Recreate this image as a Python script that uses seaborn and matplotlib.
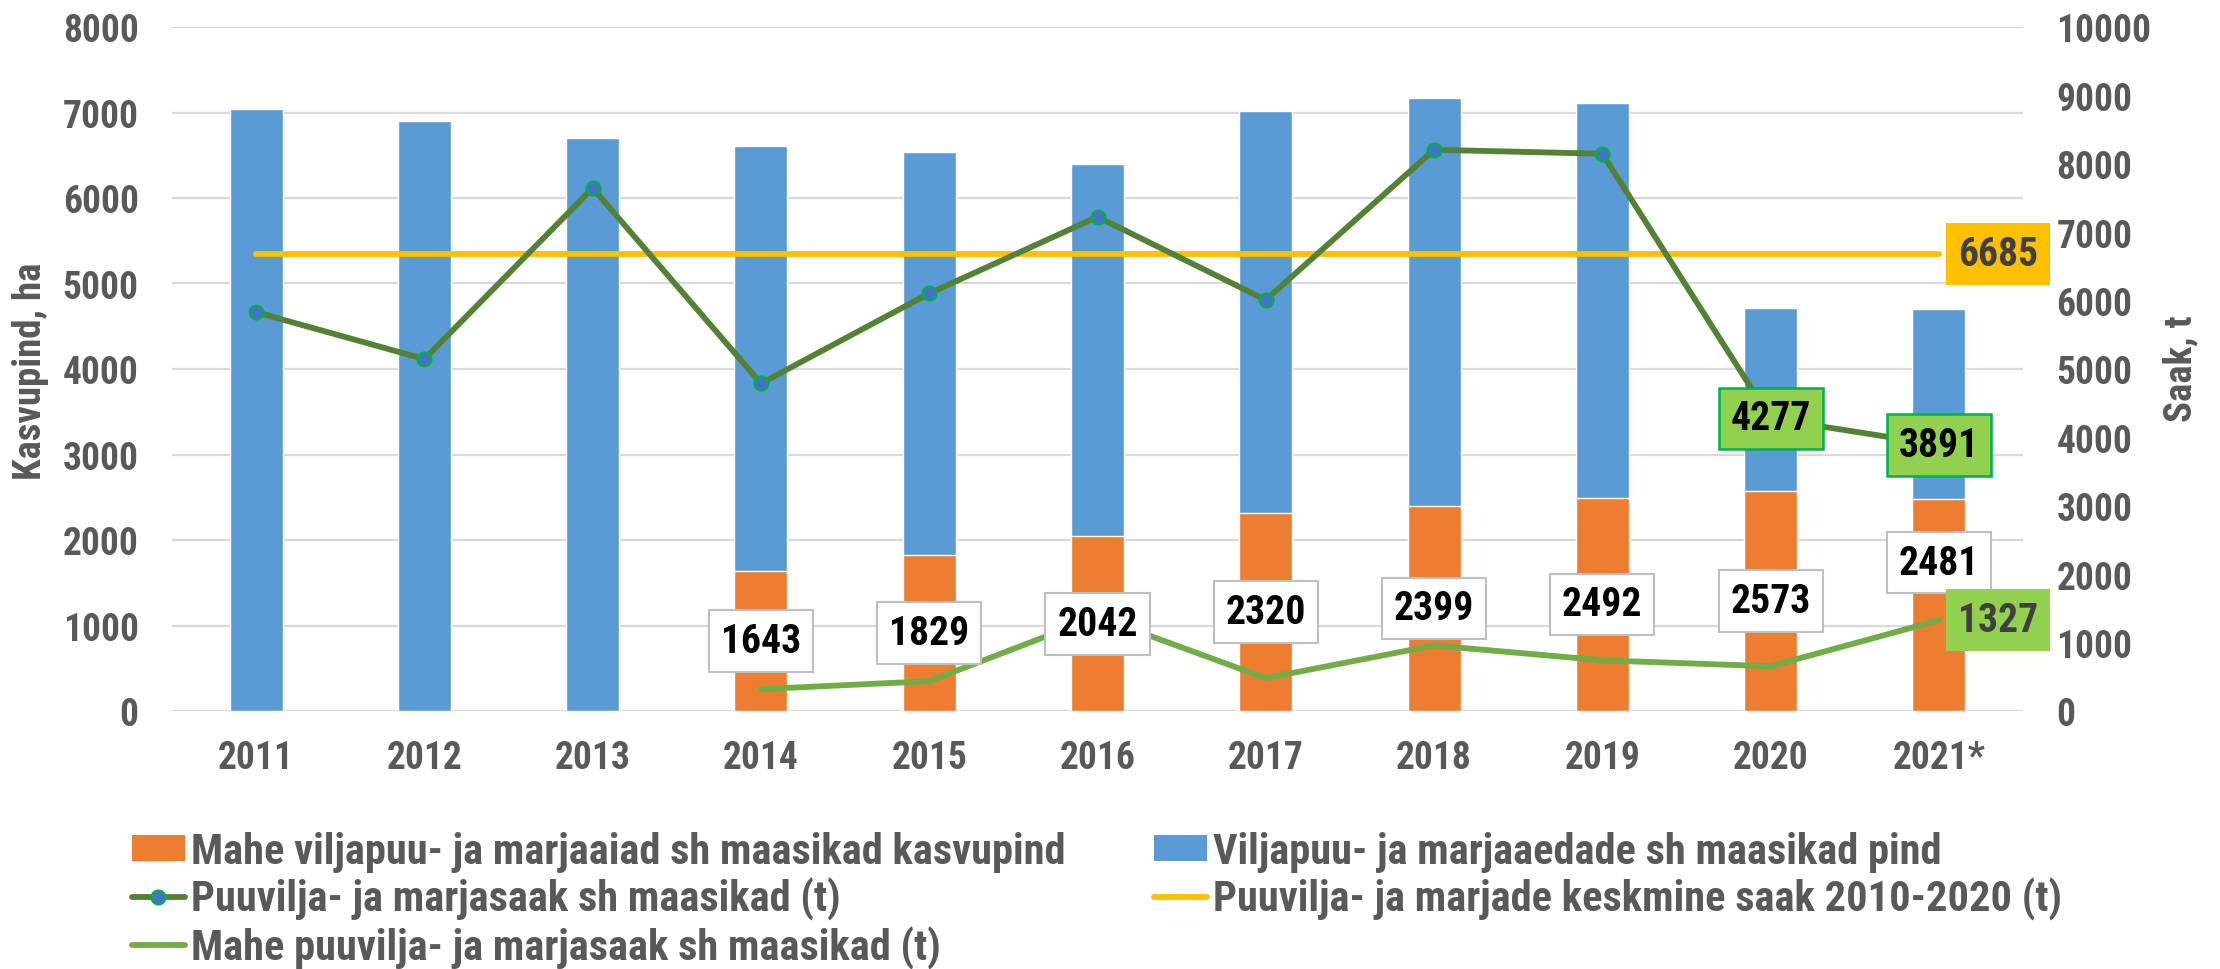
import matplotlib
matplotlib.use("Agg")
import matplotlib.pyplot as plt
from matplotlib import font_manager as fm
from matplotlib.patches import Patch
from matplotlib.lines import Line2D
import seaborn as sns
import pandas as pd

# ---------------- data ----------------
years = ["2011", "2012", "2013", "2014", "2015", "2016", "2017", "2018", "2019", "2020", "2021*"]
total_area = [7040, 6895, 6703, 6605, 6535, 6401, 7017, 7174, 7110, 4715, 4703]
org_years = ["2014", "2015", "2016", "2017", "2018", "2019", "2020", "2021*"]
org_area = [1643, 1829, 2042, 2320, 2399, 2492, 2573, 2481]
harvest = [5830, 5145, 7645, 4789, 6105, 7224, 6010, 8205, 8147, 4277, 3891]
org_harvest = [320, 436, 1380, 480, 959, 741, 654, 1327]
avg_harvest = 6685

lbl_org = "Mahe viljapuu- ja marjaaiad sh maasikad kasvupind"
lbl_total = "Viljapuu- ja marjaaedade sh maasikad pind"
lbl_harv = "Puuvilja- ja marjasaak sh maasikad (t)"
lbl_avg = "Puuvilja- ja marjade keskmine saak 2010-2020 (t)"
lbl_orgh = "Mahe puuvilja- ja marjasaak sh maasikad (t)"

# ---------------- style ----------------
sns.set_theme(style="white")
names = {f.name for f in fm.fontManager.ttflist}
FONT = "DejaVu Sans"
for cand in ["Roboto Condensed", "Liberation Sans Narrow", "Roboto"]:
    if cand in names:
        FONT = cand
        break
plt.rcParams["font.family"] = [FONT, "DejaVu Sans"]
plt.rcParams["font.weight"] = "bold"

BLUE = "#5B9BD5"
ORANGE = "#ED7D31"
DGREEN = "#548235"
MFACE = "#4472C4"
MEDGE = "#00B050"
LGREEN = "#70AD47"
YELLOW = "#FFC000"
BOXGREEN = "#92D050"
GREY = "#595959"
GRID = "#D9D9D9"

fig = plt.figure(figsize=(22.2, 9.7), dpi=100)
ax = fig.add_axes([172 / 2220, 1 - 712 / 970, 1851 / 2220, 684 / 970])
ax2 = ax.twinx()

df_total = pd.DataFrame({"year": years, "area": total_area})
df_org = pd.DataFrame({"year": org_years, "area": org_area})

sns.barplot(data=df_total, x="year", y="area", order=years, color=BLUE,
            width=0.315, saturation=1, ax=ax, zorder=2)
sns.barplot(data=df_org, x="year", y="area", order=years, color=ORANGE,
            width=0.315, saturation=1, ax=ax, zorder=3)

xi_all = [years.index(y) for y in years]
xi_org = [years.index(y) for y in org_years]

sns.lineplot(x=[xi_all[0], xi_all[-1]], y=[avg_harvest, avg_harvest], color=YELLOW,
             lw=4.2, ax=ax2, solid_capstyle="round", zorder=2)
sns.lineplot(x=xi_org, y=org_harvest, color=LGREEN, lw=4.2, ax=ax2, zorder=3)
sns.lineplot(x=xi_all, y=harvest, color=DGREEN, lw=4.2, ax=ax2, marker="o",
             markersize=10, markerfacecolor=MFACE, markeredgecolor=MEDGE,
             markeredgewidth=1.6, zorder=4)

ax.set_xlim(-0.5, len(years) - 0.5)
ax.set_ylim(0, 8000)
ax2.set_ylim(0, 10000)
ax.set_yticks(range(0, 8001, 1000))
ax2.set_yticks(range(0, 10001, 1000))
ax.yaxis.grid(True, color=GRID, lw=1.6, zorder=0)
ax.set_axisbelow(True)
for a in (ax, ax2):
    for s in a.spines.values():
        s.set_visible(False)
    a.set_xlabel("")
    a.set_ylabel("")
ax.tick_params(axis="y", length=0, pad=24, labelsize=27, labelcolor=GREY)
ax2.tick_params(axis="y", length=0, pad=24, labelsize=27, labelcolor=GREY)
ax.tick_params(axis="x", length=0, pad=20, labelsize=27, labelcolor=GREY)
for t in ax.get_xticklabels() + ax.get_yticklabels() + ax2.get_yticklabels():
    t.set_fontweight("bold")

fig.text(31 / 2220, 1 - 371 / 970, "Kasvupind, ha", rotation=90, ha="center",
         va="center", fontsize=28, color=GREY, fontweight="bold")
fig.text(2181 / 2220, 1 - 369 / 970, "Saak, t", rotation=90, ha="center",
         va="center", fontsize=28, color=GREY, fontweight="bold")

# ---------------- data labels ----------------
LBL = 28.5
label_frac = [0.5, 0.5, 0.5, 0.5, 0.5, 0.5, 0.5, 0.7]
for xi, v, f in zip(xi_org, org_area, label_frac):
    ax2.text(xi, v * f, f"{v}", transform=ax.transData, ha="center", va="center",
             fontsize=LBL, fontweight="bold", color="black", zorder=6,
             bbox=dict(boxstyle="square,pad=0.3", fc="white", ec="#BFBFBF", lw=1.5))
for k in (len(years) - 2, len(years) - 1):
    ax2.text(xi_all[k], harvest[k], f"{harvest[k]}", ha="center", va="center",
             fontsize=LBL, fontweight="bold", color="black", zorder=6,
             bbox=dict(boxstyle="square,pad=0.3", fc=BOXGREEN, ec=MEDGE, lw=1.8))
ax2.text(xi_all[-1] + 0.35, avg_harvest, f"{avg_harvest}", ha="center", va="center",
         fontsize=LBL, fontweight="bold", color="#404040", zorder=6, clip_on=False,
         bbox=dict(boxstyle="square,pad=0.3", fc=YELLOW, ec="none"))
ax2.text(xi_org[-1] + 0.35, org_harvest[-1], f"{org_harvest[-1]}", ha="center",
         va="center", fontsize=LBL, fontweight="bold", color="#404040", zorder=6,
         clip_on=False, bbox=dict(boxstyle="square,pad=0.3", fc=BOXGREEN, ec="none"))

# ---------------- legend ----------------
h_org = Patch(facecolor=ORANGE, edgecolor="none", label=lbl_org)
h_tot = Patch(facecolor=BLUE, edgecolor="none", label=lbl_total)
h_harv = Line2D([], [], color=DGREEN, lw=4.2, marker="o", markersize=10,
                markerfacecolor=MFACE, markeredgecolor=MEDGE, markeredgewidth=1.6,
                label=lbl_harv)
h_avg = Line2D([], [], color=YELLOW, lw=4.2, solid_capstyle="round", label=lbl_avg)
h_orgh = Line2D([], [], color=LGREEN, lw=4.2, solid_capstyle="round", label=lbl_orgh)

leg_kw = dict(loc="upper left", frameon=False, fontsize=30.5, handlelength=1.25,
              handleheight=0.58, handletextpad=0.15, labelspacing=0.12,
              borderpad=0, borderaxespad=0, labelcolor=GREY)
leg1 = fig.legend(handles=[h_org, h_harv, h_orgh], bbox_to_anchor=(132 / 2220, 1 - 832 / 970),
                  **leg_kw)
leg2 = fig.legend(handles=[h_tot, h_avg], bbox_to_anchor=(1154 / 2220, 1 - 832 / 970),
                  **leg_kw)
for lg in (leg1, leg2):
    for t in lg.get_texts():
        t.set_fontweight("bold")

fig.savefig("out.png", dpi=100)
